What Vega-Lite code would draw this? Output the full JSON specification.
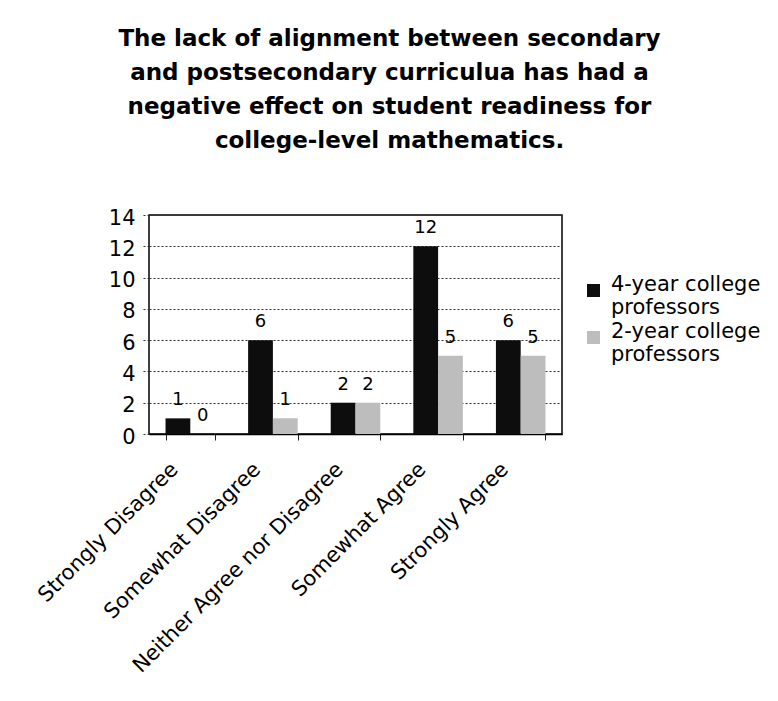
{
  "$schema": "https://vega.github.io/schema/vega-lite/v6.json",
  "width": 413,
  "height": 219,
  "autosize": {"type": "none"},
  "padding": {"left": 149, "top": 215, "right": 216, "bottom": 267},
  "background": "white",
  "title": {
    "text": ["The lack of alignment between secondary", "and postsecondary curriculua has had a", "negative effect on student readiness for", "college-level mathematics."],
    "font": "DejaVu Sans",
    "fontSize": 23,
    "fontWeight": "bold",
    "lineHeight": 34,
    "anchor": "middle",
    "frame": "group",
    "dx": 34,
    "offset": 54,
    "color": "black"
  },
  "data": {
    "values": [
      {"category": "Strongly Disagree", "group": "4-year college professors", "value": 1},
      {"category": "Strongly Disagree", "group": "2-year college professors", "value": 0},
      {"category": "Somewhat Disagree", "group": "4-year college professors", "value": 6},
      {"category": "Somewhat Disagree", "group": "2-year college professors", "value": 1},
      {"category": "Neither Agree nor Disagree", "group": "4-year college professors", "value": 2},
      {"category": "Neither Agree nor Disagree", "group": "2-year college professors", "value": 2},
      {"category": "Somewhat Agree", "group": "4-year college professors", "value": 12},
      {"category": "Somewhat Agree", "group": "2-year college professors", "value": 5},
      {"category": "Strongly Agree", "group": "4-year college professors", "value": 6},
      {"category": "Strongly Agree", "group": "2-year college professors", "value": 5}
    ]
  },
  "encoding": {
    "x": {
      "field": "category",
      "type": "nominal",
      "sort": ["Strongly Disagree", "Somewhat Disagree", "Neither Agree nor Disagree", "Somewhat Agree", "Strongly Agree"],
      "scale": {"paddingInner": 0.4, "paddingOuter": 0.2},
      "axis": {
        "title": null,
        "labelAngle": -45,
        "labelAlign": "right",
        "labelBaseline": "middle",
        "labelFont": "DejaVu Sans",
        "labelFontSize": 21,
        "labelColor": "black",
        "labelPadding": 26,
        "labelOffset": -16,
        "labelLimit": 400,
        "tickBand": "extent",
        "tickSize": 6,
        "tickColor": "#222",
        "domainColor": "black",
        "domainWidth": 1.5,
        "grid": false
      }
    },
    "xOffset": {
      "field": "group",
      "type": "nominal",
      "sort": ["4-year college professors", "2-year college professors"],
      "scale": {"paddingInner": 0, "paddingOuter": 0}
    },
    "y": {
      "field": "value",
      "type": "quantitative",
      "scale": {"domain": [0, 14]},
      "axis": {
        "title": null,
        "values": [0, 2, 4, 6, 8, 10, 12, 14],
        "labelFont": "DejaVu Sans",
        "labelFontSize": 21,
        "labelColor": "black",
        "labelPadding": 7,
        "labelOffset": 3,
        "domain": false,
        "tickSize": 7,
        "tickColor": "#333",
        "tickDash": [2, 2],
        "grid": true,
        "gridColor": "#333",
        "gridDash": [2, 2],
        "gridWidth": 1
      }
    }
  },
  "layer": [
    {
      "mark": {"type": "bar"},
      "encoding": {
        "color": {
          "field": "group",
          "type": "nominal",
          "sort": ["4-year college professors", "2-year college professors"],
          "scale": {"domain": ["4-year college professors", "2-year college professors"], "range": ["#0d0d0d", "#bdbdbd"]},
          "legend": {
            "title": null,
            "orient": "none",
            "legendX": 434,
            "legendY": 65,
            "symbolType": "square",
            "symbolSize": 169,
            "symbolStrokeWidth": 0,
            "labelFont": "DejaVu Sans",
            "labelFontSize": 21,
            "labelColor": "black",
            "labelBaseline": "alphabetic",
            "labelOffset": 7,
            "labelLimit": 400,
            "rowPadding": 2,
            "labelExpr": "datum.label == '4-year college professors' ? ['4-year college', 'professors'] : ['2-year college', 'professors']"
          }
        }
      }
    },
    {
      "mark": {"type": "text", "font": "DejaVu Sans", "fontSize": 18, "color": "black", "baseline": "alphabetic", "dy": -13},
      "encoding": {
        "text": {"field": "value", "type": "quantitative"}
      }
    }
  ],
  "config": {
    "view": {"stroke": "black", "strokeWidth": 1.5}
  }
}
